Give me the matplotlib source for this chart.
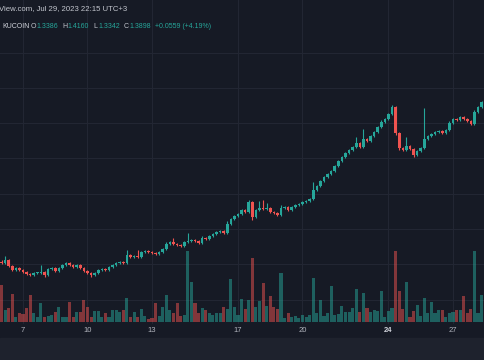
import matplotlib.pyplot as plt
from matplotlib.patches import Rectangle
from matplotlib.transforms import blended_transform_factory

# 4h candles, Jul 6 -> Jul 28 2023 (x = day of month)
first_day = 6.0
first_open = 0.595

closes = [
    0.590, 0.605, 0.575, 0.555, 0.565, 0.555, 0.545, 0.535, 0.530, 0.540,
    0.540, 0.545, 0.530, 0.560, 0.565, 0.550, 0.565, 0.580, 0.590, 0.580,
    0.570, 0.580, 0.565, 0.550, 0.540, 0.530, 0.540, 0.555, 0.560, 0.555,
    0.570, 0.580, 0.590, 0.595, 0.590, 0.630, 0.620, 0.625, 0.620, 0.645,
    0.650, 0.645, 0.640, 0.635, 0.645, 0.660, 0.685, 0.695, 0.685, 0.680,
    0.675, 0.695, 0.700, 0.705, 0.700, 0.690, 0.715, 0.710, 0.725, 0.735,
    0.745, 0.750, 0.740, 0.785, 0.810, 0.825, 0.835, 0.855, 0.845, 0.895,
    0.820, 0.855, 0.865, 0.860, 0.865, 0.845, 0.840, 0.830, 0.865, 0.870,
    0.855, 0.870, 0.880, 0.885, 0.895, 0.900, 0.910, 0.955, 0.975, 1.000,
    1.020, 1.035, 1.050, 1.075, 1.100, 1.120, 1.140, 1.155, 1.170, 1.190,
    1.170, 1.210, 1.200, 1.225, 1.245, 1.270, 1.295, 1.310, 1.335, 1.370,
    1.240, 1.165, 1.155, 1.175, 1.160, 1.130, 1.150, 1.165, 1.210, 1.225,
    1.235, 1.245, 1.250, 1.240, 1.255, 1.290, 1.310, 1.305, 1.320, 1.310,
    1.300, 1.285, 1.345, 1.370, 1.395,
]

upper_wick = [
    0.010, 0.020, 0.005, 0.005, 0.005, 0.005, 0.005, 0.005, 0.005, 0.005,
    0.005, 0.035, 0.005, 0.005, 0.005, 0.005, 0.005, 0.005, 0.005, 0.005,
    0.005, 0.005, 0.005, 0.005, 0.005, 0.005, 0.005, 0.005, 0.005, 0.005,
    0.005, 0.005, 0.005, 0.005, 0.005, 0.025, 0.005, 0.005, 0.030, 0.005,
    0.005, 0.005, 0.005, 0.005, 0.005, 0.005, 0.010, 0.005, 0.020, 0.005,
    0.005, 0.005, 0.040, 0.005, 0.005, 0.005, 0.010, 0.005, 0.005, 0.005,
    0.005, 0.005, 0.005, 0.015, 0.005, 0.005, 0.005, 0.005, 0.005, 0.010,
    0.005, 0.005, 0.035, 0.040, 0.025, 0.005, 0.005, 0.005, 0.015, 0.005,
    0.005, 0.005, 0.005, 0.005, 0.005, 0.005, 0.005, 0.040, 0.005, 0.005,
    0.005, 0.005, 0.005, 0.005, 0.005, 0.005, 0.005, 0.005, 0.005, 0.030,
    0.005, 0.050, 0.005, 0.005, 0.005, 0.005, 0.010, 0.005, 0.005, 0.010,
    0.005, 0.005, 0.005, 0.045, 0.005, 0.005, 0.005, 0.005, 0.155, 0.005,
    0.005, 0.005, 0.005, 0.005, 0.005, 0.010, 0.005, 0.005, 0.005, 0.005,
    0.005, 0.005, 0.010, 0.005, 0.005,
]

lower_wick = [
    0.005, 0.005, 0.005, 0.005, 0.005, 0.005, 0.005, 0.005, 0.005, 0.005,
    0.005, 0.005, 0.010, 0.005, 0.005, 0.005, 0.005, 0.005, 0.005, 0.005,
    0.005, 0.005, 0.005, 0.005, 0.005, 0.010, 0.005, 0.005, 0.005, 0.005,
    0.005, 0.005, 0.005, 0.005, 0.005, 0.005, 0.005, 0.005, 0.005, 0.005,
    0.005, 0.005, 0.005, 0.005, 0.005, 0.005, 0.005, 0.005, 0.005, 0.005,
    0.005, 0.005, 0.005, 0.005, 0.005, 0.005, 0.005, 0.005, 0.005, 0.005,
    0.005, 0.005, 0.005, 0.005, 0.005, 0.005, 0.005, 0.005, 0.005, 0.005,
    0.015, 0.005, 0.005, 0.005, 0.005, 0.005, 0.005, 0.005, 0.005, 0.005,
    0.005, 0.005, 0.005, 0.005, 0.005, 0.005, 0.005, 0.005, 0.005, 0.005,
    0.005, 0.005, 0.005, 0.005, 0.005, 0.005, 0.005, 0.005, 0.005, 0.005,
    0.005, 0.005, 0.005, 0.005, 0.005, 0.005, 0.005, 0.005, 0.005, 0.005,
    0.010, 0.010, 0.005, 0.005, 0.005, 0.010, 0.005, 0.005, 0.005, 0.005,
    0.005, 0.005, 0.005, 0.005, 0.005, 0.005, 0.005, 0.005, 0.005, 0.005,
    0.005, 0.005, 0.005, 0.005, 0.005,
]

# volume in thousands
volume_k = [
    370, 120, 140, 280, 50, 90, 80, 140, 270, 90,
    50, 190, 50, 60, 70, 100, 150, 50, 50, 200,
    50, 100, 100, 220, 150, 50, 110, 110, 50, 90,
    50, 120, 120, 100, 120, 240, 50, 100, 50, 130,
    60, 30, 40, 190, 60, 150, 270, 120, 90, 190,
    60, 70, 710, 400, 190, 90, 140, 120, 90, 70,
    90, 90, 150, 130, 430, 150, 70, 230, 130, 220,
    640, 150, 210, 390, 160, 260, 150, 130, 490, 40,
    90, 50, 60, 40, 70, 50, 70, 440, 90, 220,
    60, 90, 360, 70, 80, 160, 100, 100, 140, 330,
    100, 290, 140, 100, 120, 110, 310, 50, 110, 140,
    710, 310, 130, 400, 50, 110, 170, 60, 240, 90,
    200, 90, 120, 120, 50, 90, 100, 120, 120, 260,
    90, 130, 710, 90, 270,
]

tick_days = [7, 10, 13, 17, 20, 24, 27]
grid_prices = [1.6425, 1.466, 1.2895, 1.113, 0.9365, 0.76, 0.5835, 0.407]

header = "View.com, Jul 29, 2023 22:15 UTC+3"
symbol = "KUCOIN"
ohlc_labels = ["O", "H", "L", "C"]
ohlc_values = ["1.3386", "1.4160", "1.3342", "1.3898"]
change_text = "+0.0559 (+4.19%)"

BG = "#161a25"
UP = "#26a69a"
DOWN = "#ef5350"
GRID = "#222633"
TEXT = "#b2b5be"

n = len(closes)
days = [first_day + i / 6 for i in range(n)]
opens = [first_open] + closes[:-1]
highs = [max(o, c) + w for o, c, w in zip(opens, closes, upper_wick)]
lows = [min(o, c) - w for o, c, w in zip(opens, closes, lower_wick)]
colors = [UP if c >= o else DOWN for o, c in zip(opens, closes)]

plt.rcParams["font.family"] = ["Liberation Sans", "DejaVu Sans"]

fig = plt.figure(figsize=(4.85, 3.6), dpi=100, facecolor=BG)
fig.patches.append(Rectangle((0, 0), 1, 22 / 360, transform=fig.transFigure,
                             color="#1e222d", zorder=0))

rect = [0, 36 / 360, 1, 324 / 360]
ax_vol = fig.add_axes(rect, label="volume")
ax = fig.add_axes(rect, label="price")
ax_vol.set_facecolor(BG)
ax.patch.set_visible(False)

# volume (bottom layer)
ax_vol.bar(days, volume_k, width=0.145, color=colors, alpha=0.5, linewidth=0)
ax_vol.set_xlim(5.93, 28.49)
ax_vol.set_ylim(-20, 3220)

for d in tick_days:
    ax_vol.axvline(d, color=GRID, lw=0.8, zorder=0)
trans = blended_transform_factory(ax_vol.transAxes, ax.transData)
for p in grid_prices:
    ax_vol.plot([0, 1], [p, p], transform=trans, color=GRID, lw=0.8, zorder=0)

# candles
ax.vlines(days, lows, highs, colors=colors, lw=0.8)
bottoms = [min(o, c) for o, c in zip(opens, closes)]
heights = [max(abs(c - o), 0.004) for o, c in zip(opens, closes)]
ax.bar(days, heights, bottom=bottoms, width=0.12, color=colors, linewidth=0)
ax.set_xlim(5.93, 28.49)
ax.set_ylim(0.285, 1.905)

ax.set_xticks(tick_days)
ax.set_xticklabels([str(d) for d in tick_days])
ax.tick_params(axis="x", length=0, pad=2, labelsize=5.5, labelcolor=TEXT)
for lbl in ax.get_xticklabels():
    if lbl.get_text() == "24":
        lbl.set_color("#d1d4dc")
        lbl.set_fontweight("bold")
ax.set_yticks([])
ax_vol.set_xticks([])
ax_vol.set_yticks([])
for a in (ax, ax_vol):
    for s in a.spines.values():
        s.set_visible(False)

# header
W, H = 485, 360
fig.text(-1.5 / W, 1 - 9 / H, header, fontsize=5.6, color="#c3c6ce", va="center")
fig.text(2 / W, 1 - 26 / H, symbol, fontsize=5.0, color="#d1d4dc", va="center")
label_x = [31, 62, 93, 124]
for lab, val, lx in zip(ohlc_labels, ohlc_values, label_x):
    fig.text(lx / W, 1 - 26 / H, lab, fontsize=5.0, color="#c3c6ce", va="center")
    fig.text((lx + 5.5) / W, 1 - 26 / H, val, fontsize=5.0, color=UP, va="center")
fig.text(155 / W, 1 - 26 / H, change_text, fontsize=5.0, color=UP, va="center")

fig.savefig("out.png", dpi=100, facecolor=BG)
